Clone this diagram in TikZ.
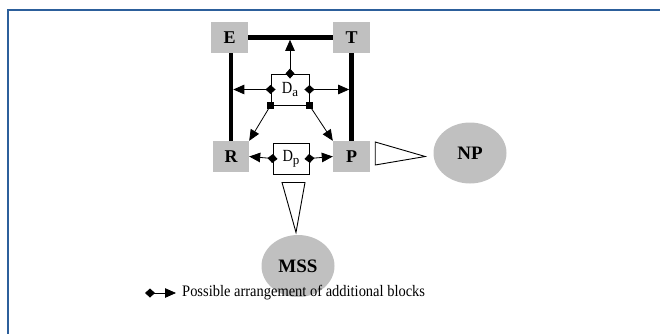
\documentclass[tikz,border=0pt]{standalone}
\usepackage{fontspec}
\setmainfont{Liberation Serif}
\usetikzlibrary{arrows.meta,calc,shapes.geometric}
\definecolor{boxgray}{RGB}{192,192,192}
\definecolor{framecol}{RGB}{44,95,155}
\tikzset{
  block/.style={draw=none,fill=boxgray,minimum width=37pt,minimum height=31pt,inner sep=0pt,font=\fontsize{18}{18}\selectfont\bfseries},
  dbox/.style={draw,line width=0.9pt,fill=white,minimum width=37pt,minimum height=31pt,inner sep=0pt,font=\fontsize{17}{17}\selectfont},
  oval/.style={ellipse,draw=none,fill=boxgray,minimum width=73pt,minimum height=61pt,inner sep=0pt,font=\fontsize{19}{19}\selectfont\bfseries},
  bar/.style={line width=4.5pt},
  dtip/.style={line width=0.8pt,{Diamond[length=10pt,width=9pt]}-{Triangle[length=11pt,width=9.5pt]}},
  stip/.style={line width=0.8pt,-{Triangle[length=11pt,width=9.5pt]}},
  tri/.style={draw,line width=0.9pt,fill=white},
}
\begin{document}
\begin{tikzpicture}[x=1pt,y=-1pt]
\useasboundingbox (0,0) rectangle (660,334);
% frame
\draw[framecol,line width=2pt] (7.5,334) -- (7.5,10.5) -- (660,10.5);
% blocks
\node[block] (E) at (229.5,37.5) {E};
\node[block] (T) at (351.5,37.5) {T};
\node[block,minimum width=36pt] (R) at (231,156.5) {R};
\node[block] (P) at (351.5,156.5) {P};
\node[dbox,minimum width=38pt] (Da) at (290,89.5) {\scalebox{0.85}[1]{D}\raisebox{-0.4ex}{\fontsize{13}{13}\selectfont a}};
\node[dbox,minimum width=36pt] (Dp) at (291,158.5) {\scalebox{0.85}[1]{D}\raisebox{-0.4ex}{\fontsize{13}{13}\selectfont p}};
\node[oval] (NP) at (470,153) {NP};
\node[oval,minimum height=62pt] (MSS) at (298,266) {MSS};
% thick bars
\draw[bar] (E.east) -- (T.west);
\draw[bar] (E.south -| R.north) -- (R.north);
\draw[bar] (T.south) -- (P.north);
% coordinates on the bars
\coordinate (upbar) at (Da.north |- E.east);
\coordinate (lbar) at (R.north |- Da.west);
\coordinate (rbar) at (P.north |- Da.east);
% arrows from Da
\draw[dtip,shorten <=-5pt,shorten >=2.3pt] (Da.north) -- (upbar);
\draw[dtip,shorten <=-5pt,shorten >=2.3pt] (Da.west) -- (lbar);
\draw[dtip,shorten <=-5pt,shorten >=2.3pt] (Da.east) -- (rbar);
\draw[stip] (Da.south west) -- (R.north east);
\draw[stip] (Da.south east) -- (P.north west);
\fill ([shift={(-3.3,-3.3)}]Da.south west) rectangle ++(6.6,6.6);
\fill ([shift={(-3.3,-3.3)}]Da.south east) rectangle ++(6.6,6.6);
% arrows from Dp
\draw[dtip,shorten <=-5pt] (Dp.west) -- (R.east);
\draw[dtip,shorten <=-5pt] (Dp.east) -- (P.west);
% triangles
\draw[tri] ($(P.east)+(5,-14.5)$) -- ($(P.east)+(5,8.5)$) -- ($(P.east)+(55,0)$) -- cycle;
\draw[tri] ($(Dp.south)+(-9,8)$) -- ($(Dp.south)+(14,8)$) -- ($(Dp.south)+(5,58)$) -- cycle;
% legend
\coordinate (L1) at (145,293);
\coordinate (L2) at (176,293);
\draw[dtip] (L1) -- (L2);
\node[anchor=west,inner sep=0pt,font=\fontsize{16}{16}\selectfont] (leg) at (182,293) {\scalebox{0.905}[1]{Possible arrangement of additional blocks}};
\end{tikzpicture}
\end{document}
